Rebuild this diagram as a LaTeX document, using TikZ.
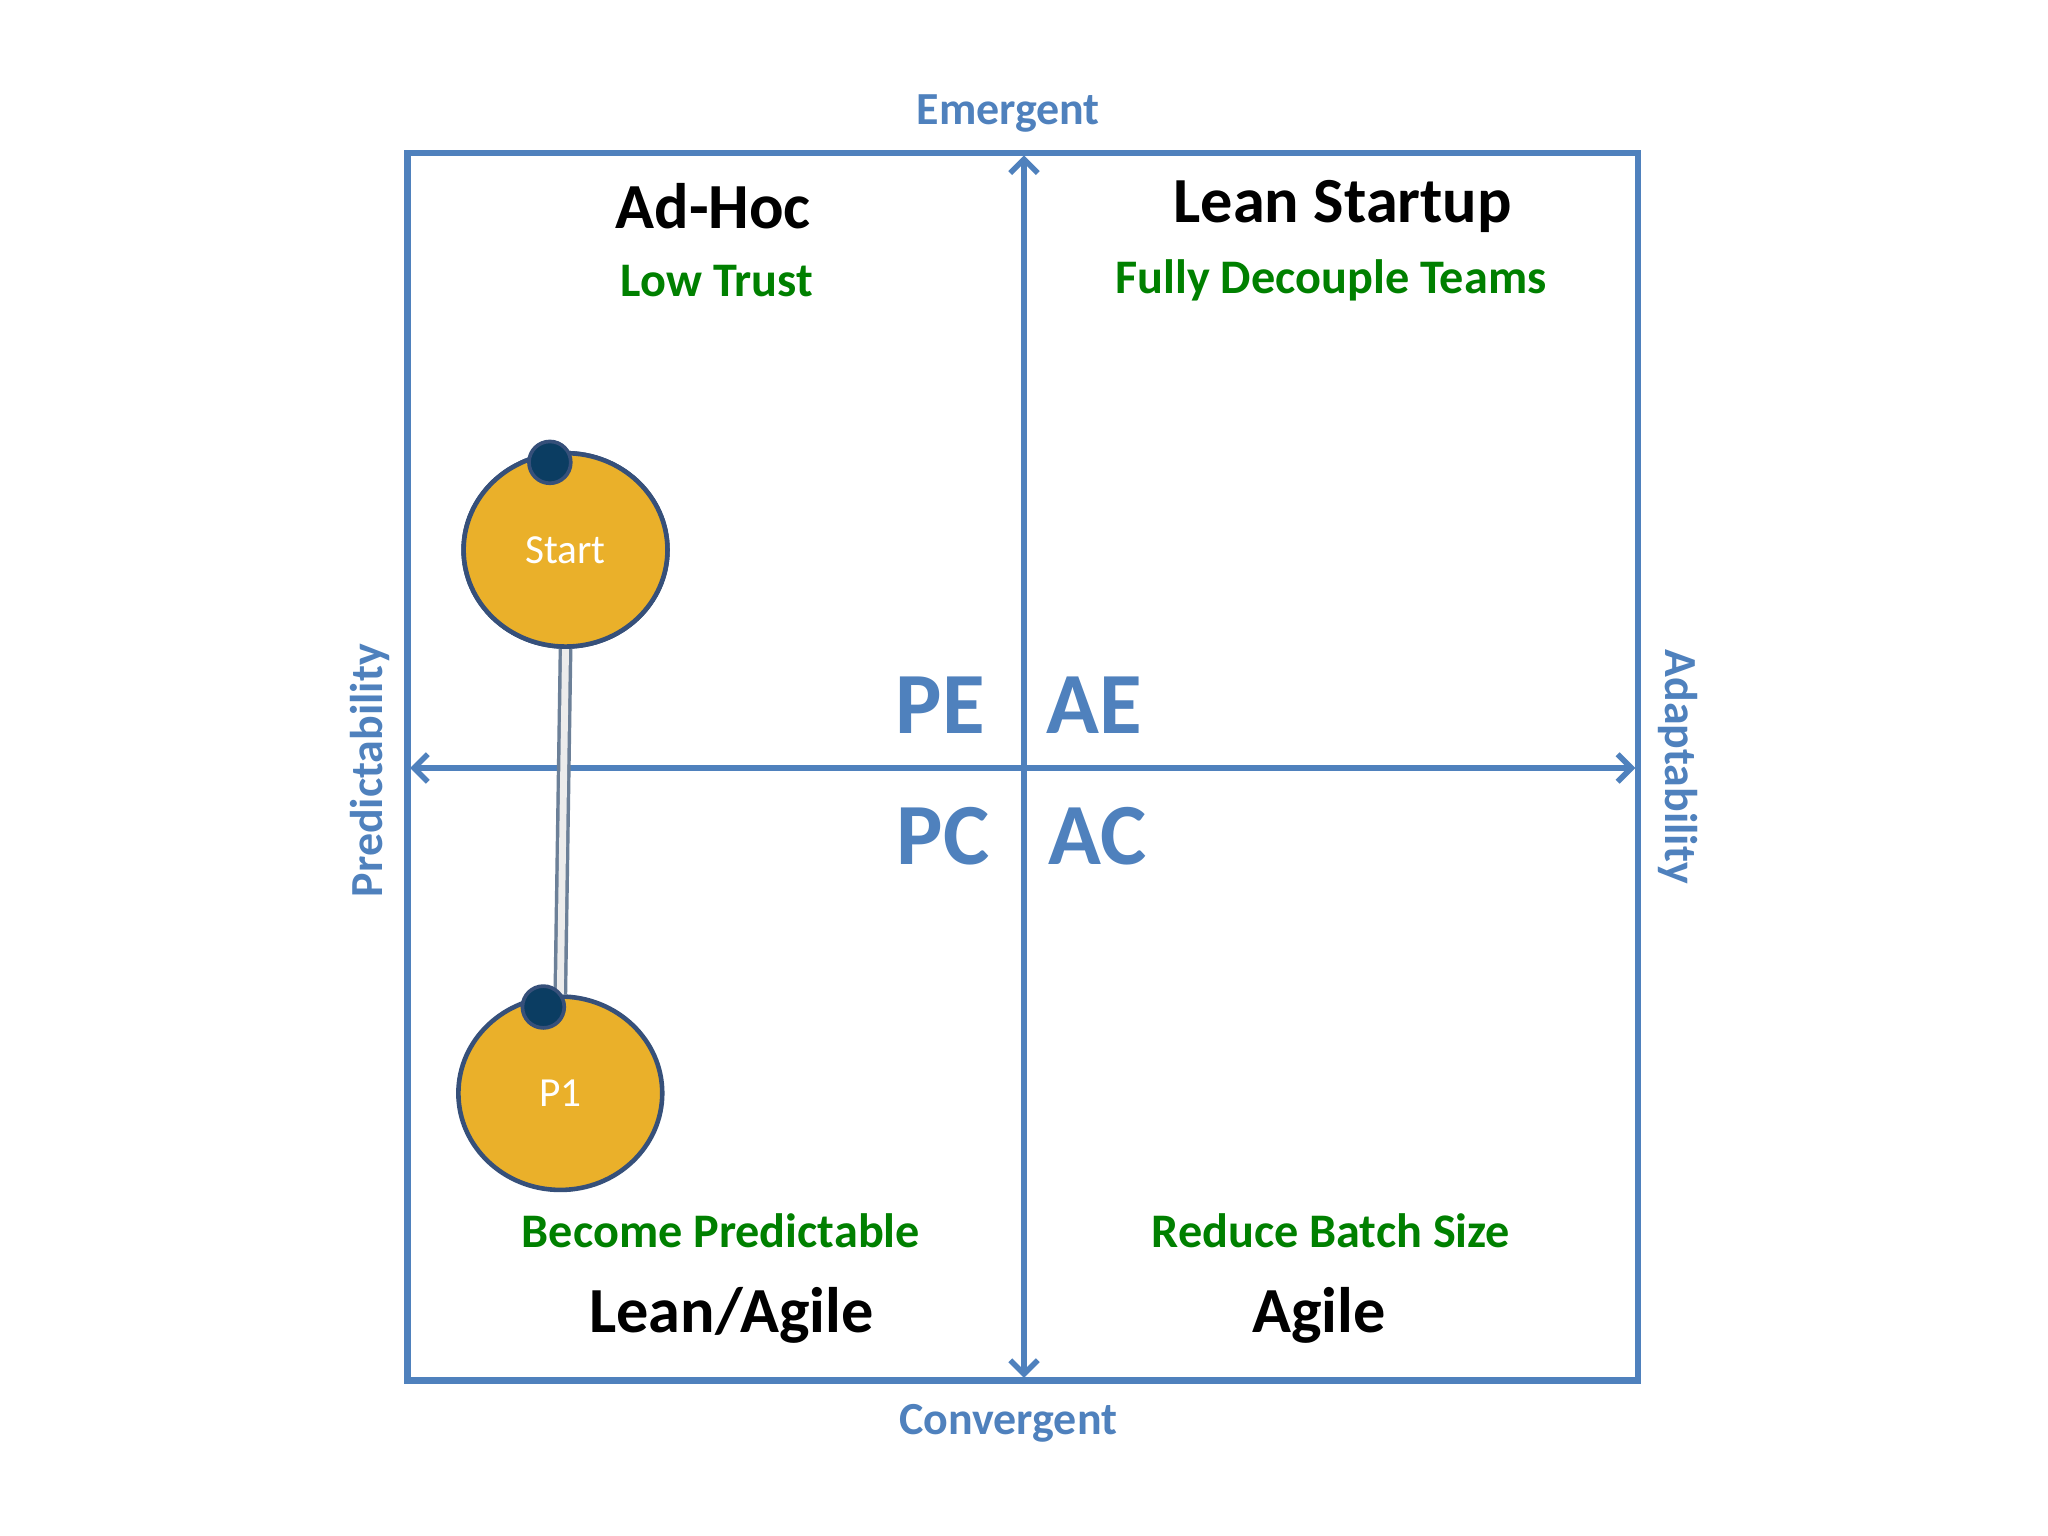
\documentclass[tikz,border=0pt]{standalone}
\usepackage{fontspec}
\setmainfont{Carlito}
\usetikzlibrary{arrows.meta}
\definecolor{ax}{HTML}{4F81BD}
\definecolor{gr}{HTML}{008000}
\definecolor{gold}{HTML}{EAB02A}
\definecolor{dk}{HTML}{36507A}
\definecolor{dot}{HTML}{0B3D62}
\tikzset{
 title/.style={font=\bfseries\fontsize{14pt}{16pt}\selectfont,text=black},
 sub/.style={font=\bfseries\fontsize{10.5pt}{12pt}\selectfont,text=gr},
 quad/.style={font=\bfseries\fontsize{19pt}{22pt}\selectfont,text=ax},
 axl/.style={font=\bfseries\fontsize{10pt}{12pt}\selectfont,text=ax},
 axis/.style={draw=ax,line width=1.2pt,-{Straight Barb[length=3pt,width=6pt]}},
 ball/.style={ellipse,draw=dk,line width=1pt,fill=gold,minimum width=1.56cm,minimum height=1.48cm,text=white,font=\fontsize{9pt}{10pt}\selectfont},
 dotc/.style={circle,fill=dot,draw=dk,line width=0.8pt,minimum size=0.32cm,inner sep=0}
}
\usetikzlibrary{shapes.geometric}
\begin{document}
\begin{tikzpicture}[x=0.01cm,y=-0.01cm]
\useasboundingbox (0,0) rectangle (1568,1176);
\fill[white] (0,0) rectangle (1568,1176);
\draw[ax,line width=1.4pt] (312,117) rectangle (1254,1057);
\coordinate (c) at (784,588);
\coordinate (t) at (784,119);
\coordinate (b) at (784,1055);
\coordinate (l) at (314,588);
\coordinate (r) at (1252,588);
\draw[axis] (c) -- (t);
\draw[axis] (c) -- (b);
\draw[axis] (c) -- (l);
\draw[axis] (c) -- (r);
\node[axl] (em) at (772,87) {Emergent};
\node[axl] (co) at (772,1090) {Convergent};
\node[axl,rotate=90] (pr) at (283,590) {Predictability};
\node[axl,rotate=-90] (ad) at (1285,587) {Adaptability};
\node[title] (ah) at (546,158) {Ad-Hoc};
\node[sub] (lt) at (549,215) {Low Trust};
\node[title] (ls) at (1028,158) {Lean Startup};
\node[sub] (fd) at (1019,215) {Fully Decouple Teams};
\node[sub] (bp) at (552,942) {Become Predictable};
\node[title] (la) at (560,1007) {Lean/Agile};
\node[sub] (rb) at (1019,942) {Reduce Batch Size};
\node[title] (ag) at (1010,1007) {Agile};
\node[quad] (pe) at (720,540) {PE};
\node[quad] (ae) at (838,540) {AE};
\node[quad] (pc) at (722,640) {PC};
\node[quad] (ac) at (840,640) {AC};
\node[ball] (st) at (433,421) {Start};
\node[ball] (p1) at (429,837) {P1};
\draw[line width=3pt,draw=gray!60!ax] (st.south) -- (p1.north);
\draw[line width=1.5pt,draw=gray!15] (st.south) -- (p1.north);
\node[ball] at (433,421) {Start};
\node[dotc] (d1) at (421,354) {};
\node[dotc] (d2) at (416,771) {};
\end{tikzpicture}
\end{document}
